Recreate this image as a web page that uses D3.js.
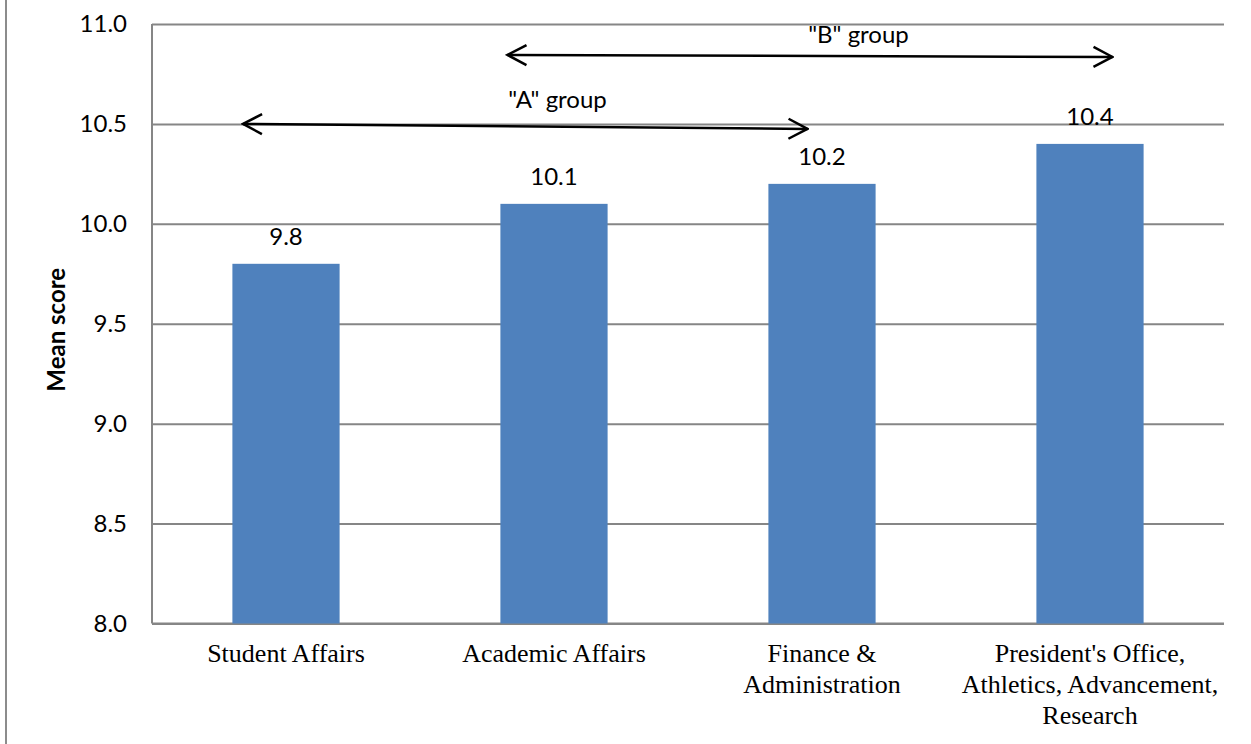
<!DOCTYPE html>
<html>
<head>
<meta charset="utf-8">
<script src="https://cdn.jsdelivr.net/npm/d3@7"></script>
<style>
  body { margin: 0; background: #fff; }
</style>
</head>
<body>
<div id="chart"></div>
<script>
const categories = ["Student Affairs", "Academic Affairs", "Finance & Administration", "President's Office, Athletics, Advancement, Research"];
const categoryLines = [["Student Affairs"], ["Academic Affairs"], ["Finance &", "Administration"], ["President's Office,", "Athletics, Advancement,", "Research"]];
const meanScores = [9.8, 10.1, 10.2, 10.4];
const yTicks = [8.0, 8.5, 9.0, 9.5, 10.0, 10.5, 11.0];

// group annotations (arrows over the bars)
const groupLabels = ['"A" group', '"B" group'];
const groupFrom = ["Student Affairs", "Academic Affairs"];
const groupTo = ["Finance & Administration", "President's Office, Athletics, Advancement, Research"];
const groupLevelFrom = [10.5, 10.845];
const groupLevelTo = [10.475, 10.835];

const W = 1251, H = 744;
const margin = {top: 24, left: 152};
const width = 1072;
const height = 599.5;

const svg = d3.select("#chart")
    .append("svg")
    .attr("width", W)
    .attr("height", H)
    .style("display", "block");

svg.append("rect").attr("width", W).attr("height", H).attr("fill", "#fff");

// outer frame edge on the left
svg.append("line")
    .attr("x1", 6).attr("x2", 6).attr("y1", 0).attr("y2", H)
    .attr("stroke", "#8c8c8c").attr("stroke-width", 2);

const g = svg.append("g").attr("transform", `translate(${margin.left},${margin.top})`);

const x = d3.scaleBand()
    .domain(categories)
    .range([0, width])
    .paddingInner(0.6)
    .paddingOuter(0.3);

const y = d3.scaleLinear()
    .domain([8, 11])
    .range([height, 0]);

// gridlines + tick labels
const yAxis = g.append("g")
    .call(d3.axisLeft(y).tickValues(yTicks).tickFormat(d3.format(".1f")).tickSize(-width).tickPadding(25));
yAxis.select(".domain").remove();
yAxis.selectAll("line").attr("stroke", "#868686").attr("stroke-width", 2);
yAxis.selectAll("text")
    .attr("fill", "#000")
    .style("font-family", "Lato, 'Open Sans', sans-serif")
    .style("font-size", "24px");

// axis lines
g.append("line").attr("x1", 0).attr("x2", 0).attr("y1", 0).attr("y2", height)
    .attr("stroke", "#868686").attr("stroke-width", 2);
g.append("line").attr("x1", 0).attr("x2", width).attr("y1", height).attr("y2", height)
    .attr("stroke", "#868686").attr("stroke-width", 2);

const data = categories.map((c, i) => ({cat: c, value: meanScores[i], lines: categoryLines[i]}));

g.selectAll(".bar")
    .data(data)
    .enter().append("rect")
    .attr("class", "bar")
    .attr("x", d => x(d.cat))
    .attr("y", d => y(d.value))
    .attr("width", x.bandwidth())
    .attr("height", d => height - y(d.value))
    .attr("fill", "#4f81bd");

g.selectAll(".val")
    .data(data)
    .enter().append("text")
    .attr("class", "val")
    .attr("x", d => x(d.cat) + x.bandwidth() / 2)
    .attr("y", d => y(d.value) - 19)
    .attr("text-anchor", "middle")
    .style("font-family", "Lato, 'Open Sans', sans-serif")
    .style("font-size", "24px")
    .text(d => d3.format(".1f")(d.value));

// category labels
const catText = g.selectAll(".cat")
    .data(data)
    .enter().append("text")
    .attr("class", "cat")
    .attr("text-anchor", "middle")
    .style("font-family", "'Liberation Serif', 'Times New Roman', serif")
    .style("font-size", "26px")
    .attr("fill", "#000");
catText.selectAll("tspan")
    .data(d => d.lines.map(l => ({l, cx: x(d.cat) + x.bandwidth() / 2})))
    .enter().append("tspan")
    .attr("x", d => d.cx)
    .attr("y", (d, i) => height + 38.5 + i * 31)
    .text(d => d.l);

// y axis title
svg.append("text")
    .attr("transform", `translate(55,${margin.top + height / 2 + 6}) rotate(-90)`)
    .attr("text-anchor", "middle")
    .attr("dominant-baseline", "central")
    .style("font-family", "Lato, 'Open Sans', sans-serif")
    .style("font-size", "24px")
    .style("font-weight", "bold")
    .text("Mean score");

// arrows
const defs = svg.append("defs");
defs.append("marker")
    .attr("id", "head")
    .attr("viewBox", "-22 -12 24 24")
    .attr("refX", 0).attr("refY", 0)
    .attr("markerWidth", 24).attr("markerHeight", 24)
    .attr("markerUnits", "userSpaceOnUse")
    .attr("orient", "auto-start-reverse")
    .append("path")
    .attr("d", "M-19,-10L0,0L-19,10")
    .attr("fill", "none")
    .attr("stroke", "#000")
    .attr("stroke-width", 2.5);

const mid = c => x(c) + x.bandwidth() / 2;
const fromOff = [-43, -46.5];
const toOff = [-14.5, 22.5];
const labelAt = [mid(categories[1]) + 3.5, mid(categories[2]) + 36.5];
const labelRise = [16, 12];

groupLabels.forEach((lab, i) => {
    const y1 = y(groupLevelFrom[i]), y2 = y(groupLevelTo[i]);
    g.append("line")
        .attr("x1", mid(groupFrom[i]) + fromOff[i]).attr("y1", y1)
        .attr("x2", mid(groupTo[i]) + toOff[i]).attr("y2", y2)
        .attr("stroke", "#000").attr("stroke-width", 2.5)
        .attr("marker-start", "url(#head)")
        .attr("marker-end", "url(#head)");
    g.append("text")
        .attr("x", labelAt[i])
        .attr("y", y1 - labelRise[i])
        .attr("text-anchor", "middle")
        .style("font-family", "Lato, 'Open Sans', sans-serif")
        .style("font-size", "24px")
        .text(lab);
});
</script>
</body>
</html>
